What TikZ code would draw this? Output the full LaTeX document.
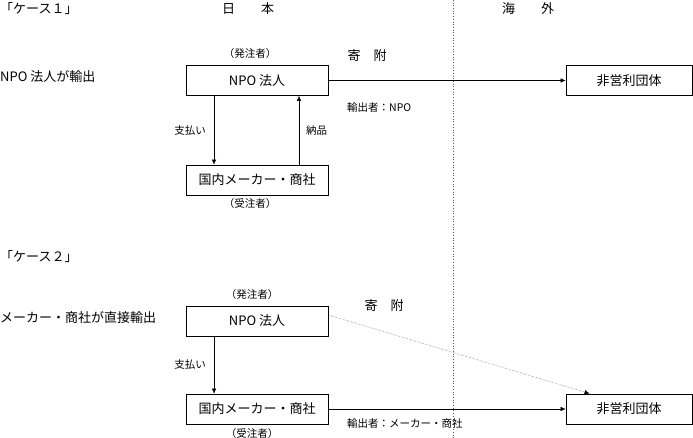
\documentclass[tikz,border=0pt]{standalone}
\usepackage{fontspec}
\setmainfont{Noto Sans CJK JP}
\usetikzlibrary{arrows.meta}

\begin{document}
\begin{tikzpicture}[x=1pt, y=-1pt, >={Latex[length=5pt, width=4.5pt]},
	every node/.style={font=\fontsize{13}{15}\selectfont, inner sep=0pt},
	box/.style={draw, line width=0.8pt, minimum width=142pt, minimum height=30pt},
	ngobox/.style={box, minimum width=126pt},
	lbl/.style={font=\fontsize{10.5}{12}\selectfont}]
	\useasboundingbox (0,0) rectangle (693,438);
	% border between Japan and abroad
	\coordinate (top) at (453,0);
	\coordinate (bottom) at (453,438);
	\draw[gray!70!black, dotted, line width=0.7pt] (top) -- (bottom);
	\node (japan) at (248,9) {日　　本};
	\node (abroad) at (528,9) {海　　外};

	% case 1
	\node[anchor=west] (case1) at (0,9) {「ケース１」};
	\node[anchor=west] (title1) at (0,77) {NPO 法人が輸出};
	\node[box] (npoA) at (257,80.5) {NPO 法人};
	\node[box] (makerA) at (257,180) {国内メーカー・商社};
	\node[ngobox] (ngoA) at (629,80.5) {非営利団体};
	\node[lbl] (ordA) at (250,54) {（発注者）};
	\node[lbl] (rcvA) at (250,204) {（受注者）};
	\node (giftA) at (367,56) {寄　附};
	\node[lbl, anchor=west] (expA) at (347,108) {輸出者：NPO};
	\draw[->] (npoA.east) -- (ngoA.west);
	\draw[->] ([xshift=-43pt]npoA.south) -- ([xshift=-43pt]makerA.north) node[lbl, midway, left=8pt] {支払い};
	\draw[->] ([xshift=42pt]makerA.north) -- ([xshift=42pt]npoA.south) node[lbl, midway, right=7pt] {納品};

	% case 2
	\node[anchor=west] (case2) at (0,257) {「ケース２」};
	\node[anchor=west] (title2) at (0,318) {メーカー・商社が直接輸出};
	\node[box] (npoB) at (257,321) {NPO 法人};
	\node[box] (makerB) at (257,409) {国内メーカー・商社};
	\node[ngobox] (ngoB) at (629,409) {非営利団体};
	\node[lbl] (ordB) at (252,295) {（発注者）};
	\node[lbl] (rcvB) at (252,434) {（受注者）};
	\node (giftB) at (384,306) {寄　附};
	\node[lbl, anchor=west] (expB) at (347,424) {輸出者：メーカー・商社};
	\draw[->] ([xshift=-43pt]npoB.south) -- ([xshift=-43pt]makerB.north) node[lbl, midway, left=8pt] {支払い};
	\draw[->] (makerB.east) -- (ngoB.west);
	\draw[-{Latex[length=5pt, width=4.5pt, black]}, densely dotted, gray!50!black] ([yshift=6pt]npoB.east) -- ([xshift=24pt]ngoB.north west);
\end{tikzpicture}
\end{document}
